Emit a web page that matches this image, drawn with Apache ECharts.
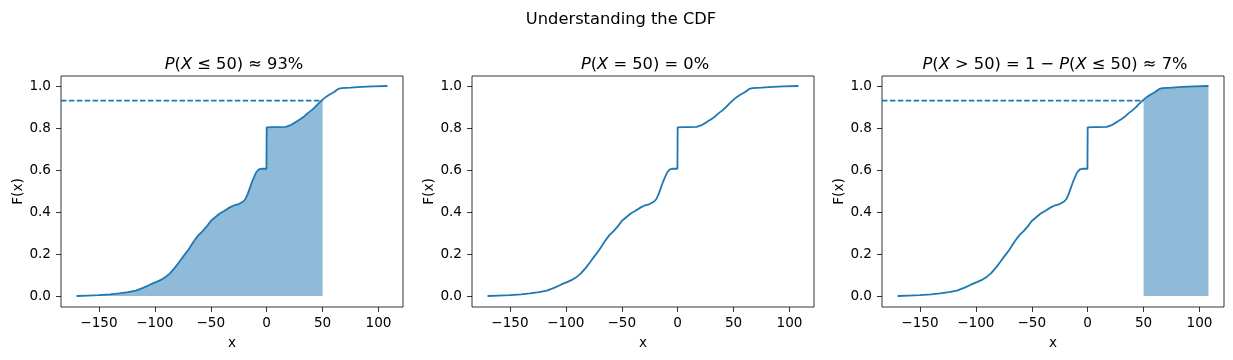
<!DOCTYPE html>
<html>
<head>
<meta charset="utf-8">
<script src="https://cdn.jsdelivr.net/npm/echarts@6/dist/echarts.min.js"></script>
<style>
html,body{margin:0;padding:0;background:#fff;}
#chart{width:1233px;height:360px;}
</style>
</head>
<body>
<div id="chart"></div>
<script>
// ---- data ----
const cdfX = [-170, -160, -150, -140, -132, -124, -117, -110, -104, -99, -94, -90, -86.5, -82, -78, -75, -70, -65, -61, -57.5, -53, -50, -46, -42, -38, -33, -29, -25, -21, -19, -17, -13, -9.5, -7, -4, -0.2, 0, 5, 10, 17, 22, 26, 30, 33.5, 37, 40, 43, 46, 50, 53, 56, 60, 64, 67, 75, 85, 95, 108];
const cdfY = [0.0, 0.002, 0.004, 0.008, 0.012, 0.018, 0.026, 0.040, 0.055, 0.066, 0.078, 0.092, 0.108, 0.135, 0.163, 0.185, 0.220, 0.262, 0.290, 0.308, 0.335, 0.357, 0.375, 0.393, 0.405, 0.422, 0.432, 0.438, 0.450, 0.462, 0.485, 0.545, 0.588, 0.603, 0.606, 0.606, 0.803, 0.804, 0.804, 0.805, 0.815, 0.828, 0.842, 0.855, 0.872, 0.884, 0.898, 0.915, 0.935, 0.948, 0.958, 0.970, 0.986, 0.990, 0.992, 0.996, 0.998, 1.0];
const threshold = 50;
const pLe = 0.93;
const xTicks = [-150, -100, -50, 0, 50, 100];
const yTicks = [0, 0.2, 0.4, 0.6, 0.8, 1.0];
const panelTitles = [
  '{i|P}({i|X} ≤ 50) ≈ 93%',
  '{i|P}({i|X} = 50) = 0%',
  '{i|P}({i|X} > 50) = 1 − {i|P}({i|X} ≤ 50) ≈ 7%'
];
const suptitle = 'Understanding the CDF';

// ---- build ----
const FONT = 'DejaVu Sans';
const C = '#1f77b4';
const FS = 13.6, FT = 16.3;
const xMin = -183.9, xMax = 121.9, yMin = -0.0524, yMax = 1.0476;
const lefts = [61, 472, 882];
const W = 342, TOP = 76, H = 231;

const pts = cdfX.map((x, i) => [x, cdfY[i]]);
const lowPts = pts.filter(p => p[0] <= threshold);
const highPts = pts.filter(p => p[0] >= threshold);

const grids = [], xAxes = [], yAxes = [], series = [], titles = [];
titles.push({
  text: suptitle, left: 616, top: 7, textAlign: 'center',
  textStyle: {fontFamily: FONT, fontSize: FT, fontWeight: 'normal', color: '#000'}
});
for (let k = 0; k < 3; k++) {
  grids.push({left: lefts[k], top: TOP, width: W, height: H, show: true, borderColor: '#000', borderWidth: 0.8, containLabel: false});
  titles.push({
    text: panelTitles[k], left: lefts[k] + W / 2 - 3, top: 52, textAlign: 'center',
    textStyle: {fontFamily: FONT, fontSize: FT, fontWeight: 'normal', color: '#000',
      rich: {i: {fontFamily: FONT, fontSize: FT, fontStyle: 'italic', color: '#000'}}}
  });
  xAxes.push({
    type: 'value', gridIndex: k, min: xMin, max: xMax,
    name: 'x', nameLocation: 'middle', nameGap: 29,
    nameTextStyle: {fontFamily: FONT, fontSize: FS, color: '#000'},
    axisLine: {show: false, onZero: false}, splitLine: {show: false},
    axisTick: {show: true, inside: false, length: 5, customValues: xTicks, lineStyle: {color: '#000', width: 0.8}},
    axisLabel: {show: true, margin: 9, customValues: xTicks, fontFamily: FONT, fontSize: FS, color: '#000',
      formatter: v => (v < 0 ? '\u2212' + Math.abs(v) : String(v))}
  });
  yAxes.push({
    type: 'value', gridIndex: k, min: yMin, max: yMax,
    name: 'F(x)', nameLocation: 'middle', nameGap: 36, nameRotate: 90,
    nameTextStyle: {fontFamily: FONT, fontSize: FS, color: '#000'},
    axisLine: {show: false, onZero: false}, splitLine: {show: false},
    axisTick: {show: true, inside: false, length: 5, customValues: yTicks, lineStyle: {color: '#000', width: 0.8}},
    axisLabel: {show: true, margin: 10, customValues: yTicks, fontFamily: FONT, fontSize: FS, color: '#000',
      formatter: v => v.toFixed(1)}
  });
  if (k === 0 || k === 2) {
    series.push({
      type: 'line', xAxisIndex: k, yAxisIndex: k, data: k === 0 ? lowPts : highPts,
      showSymbol: false, silent: true, z: 1,
      lineStyle: {width: 0, color: C}, areaStyle: {color: C, opacity: 0.5}
    });
    series.push({
      type: 'line', xAxisIndex: k, yAxisIndex: k, data: [[xMin, pLe], [threshold, pLe]],
      showSymbol: false, silent: true, z: 2,
      lineStyle: {width: 1.8, color: C, type: [5.5, 2.4]}
    });
  }
  series.push({
    type: 'line', xAxisIndex: k, yAxisIndex: k, data: pts,
    showSymbol: false, silent: true, z: 3,
    lineStyle: {width: 1.8, color: C}
  });
}

const chart = echarts.init(document.getElementById('chart'), null, {renderer: 'canvas'});
chart.setOption({
  animation: false,
  backgroundColor: '#fff',
  title: titles,
  grid: grids,
  xAxis: xAxes,
  yAxis: yAxes,
  series: series
});
</script>
</body>
</html>
